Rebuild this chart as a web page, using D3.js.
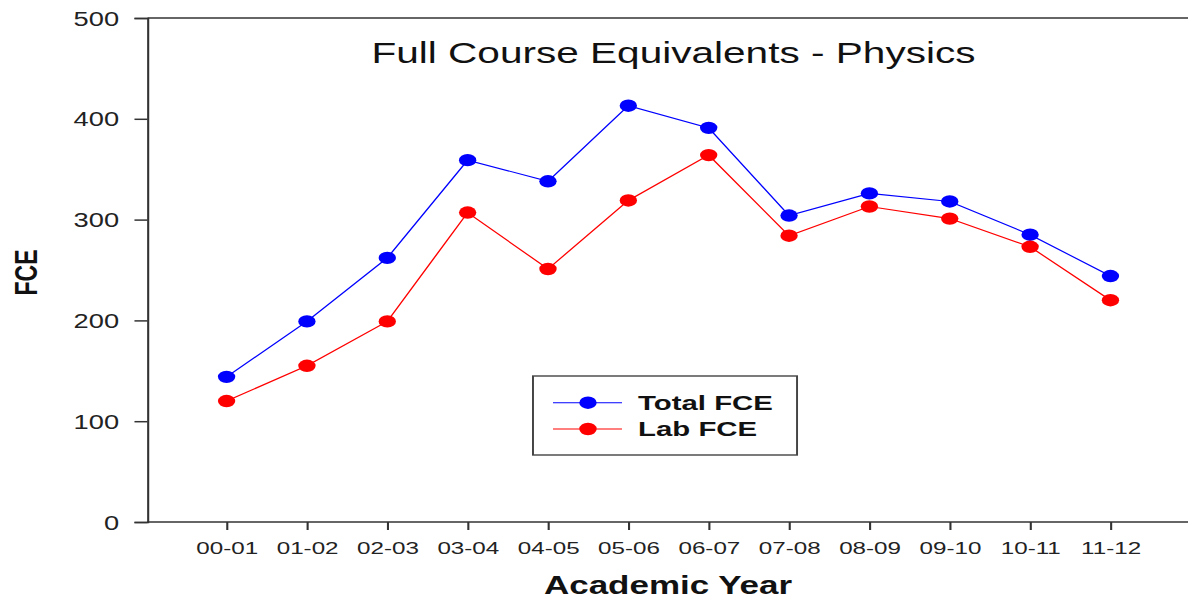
<!DOCTYPE html>
<html>
<head>
<meta charset="utf-8">
<script src="https://cdn.jsdelivr.net/npm/d3@7"></script>
<style>
html,body{margin:0;padding:0;background:#fff;}
svg{display:block;}
text{font-family:"Liberation Sans",Arial,sans-serif;}
</style>
</head>
<body>
<svg id="chart"></svg>
<script>
const categories = ["00-01","01-02","02-03","03-04","04-05","05-06","06-07","07-08","08-09","09-10","10-11","11-12"];
const totalFCE = [144,199,262,359,338,413,391,304,326,318,285,244];
const labFCE   = [120,155,199,307,251,319,364,284,313,301,273,220];
const yTicks = [0,100,200,300,400,500];
const seriesNames = ["Total FCE","Lab FCE"];
const seriesColors = ["#0000ff","#ff0000"];
const titleText = "Full Course Equivalents - Physics";
const xTitle = "Academic Year";
const yTitle = "FCE";

const W = 1188, H = 599;
const VW = 849; // drawing is horizontally stretched like the reference
const svg = d3.select("#chart")
  .attr("width", W).attr("height", H)
  .attr("viewBox", `0 0 ${VW} ${H}`)
  .attr("preserveAspectRatio", "none");

const axisX = 105.4;
const x = d3.scalePoint().domain(categories).range([104.5, 851]).padding(1);
const y = d3.scaleLinear().domain([0, 500]).range([522, 18]);

const axisColor = "#333";

// top border
svg.append("line").attr("x1", axisX).attr("x2", VW).attr("y1", y(500)).attr("y2", y(500))
  .attr("stroke", axisColor).attr("stroke-width", 1.5);

// y axis
const yAxis = d3.axisLeft(y).tickValues(yTicks).tickSize(9.3).tickPadding(11);
const gy = svg.append("g").attr("transform", `translate(${axisX},0)`).call(yAxis);
gy.select(".domain").attr("stroke", axisColor).attr("stroke-width", 1.5);
gy.selectAll(".tick line").attr("stroke", axisColor).attr("stroke-width", 1.5);
gy.selectAll(".tick text").attr("font-size", 19.5).attr("fill", "#222")
  .attr("font-family", "'Liberation Sans',Arial,sans-serif").attr("dy", "0.36em");

// x axis
const xAxis = d3.axisBottom(x).tickSize(8).tickPadding(12);
const gx = svg.append("g").attr("transform", `translate(0,${y(0)})`).call(xAxis);
gx.select(".domain").attr("d", `M${axisX},0H${VW}`).attr("stroke", axisColor).attr("stroke-width", 1.5);
gx.selectAll(".tick line").attr("stroke", axisColor).attr("stroke-width", 1.5);
gx.selectAll(".tick text").attr("font-size", 17.3).attr("fill", "#222")
  .attr("font-family", "'Liberation Sans',Arial,sans-serif");

// lines + markers
const series = [totalFCE, labFCE];
const line = d3.line().x((d, i) => x(categories[i])).y(d => y(d));
series.forEach((vals, si) => {
  svg.append("path").datum(vals).attr("d", line)
    .attr("fill", "none").attr("stroke", seriesColors[si]).attr("stroke-width", 1.1);
  svg.append("g").selectAll("circle").data(vals).join("circle")
    .attr("cx", (d, i) => x(categories[i])).attr("cy", d => y(d)).attr("r", 6.2)
    .attr("fill", seriesColors[si]);
});

// title
svg.append("text").attr("x", 481.3).attr("y", 63).attr("text-anchor", "middle")
  .attr("font-size", 29).attr("fill", "#111").text(titleText);

// axis titles
svg.append("text").attr("x", 477.4).attr("y", 594).attr("text-anchor", "middle")
  .attr("font-size", 25).attr("font-weight", "bold").attr("fill", "#111").text(xTitle);
svg.append("text").attr("transform", "translate(26.2,272.5) rotate(-90)").attr("text-anchor", "middle")
  .attr("font-size", 23).attr("font-weight", "bold").attr("fill", "#111").text(yTitle);

// legend
const lg = svg.append("g");
lg.append("rect").attr("x", 380.9).attr("y", 376).attr("width", 188.7).attr("height", 79)
  .attr("fill", "#fff").attr("stroke", "#444").attr("stroke-width", 1.4);
const rowsY = [402.7, 429];
seriesNames.forEach((name, i) => {
  lg.append("line").attr("x1", 395.2).attr("x2", 444.5).attr("y1", rowsY[i]).attr("y2", rowsY[i])
    .attr("stroke", seriesColors[i]).attr("stroke-width", 1.1);
  lg.append("circle").attr("cx", 420.2).attr("cy", rowsY[i]).attr("r", 6.2).attr("fill", seriesColors[i]);
  lg.append("text").attr("x", 456).attr("y", rowsY[i] + 7.5).attr("font-size", 21)
    .attr("font-weight", "bold").attr("fill", "#111").text(name);
});
</script>
</body>
</html>
